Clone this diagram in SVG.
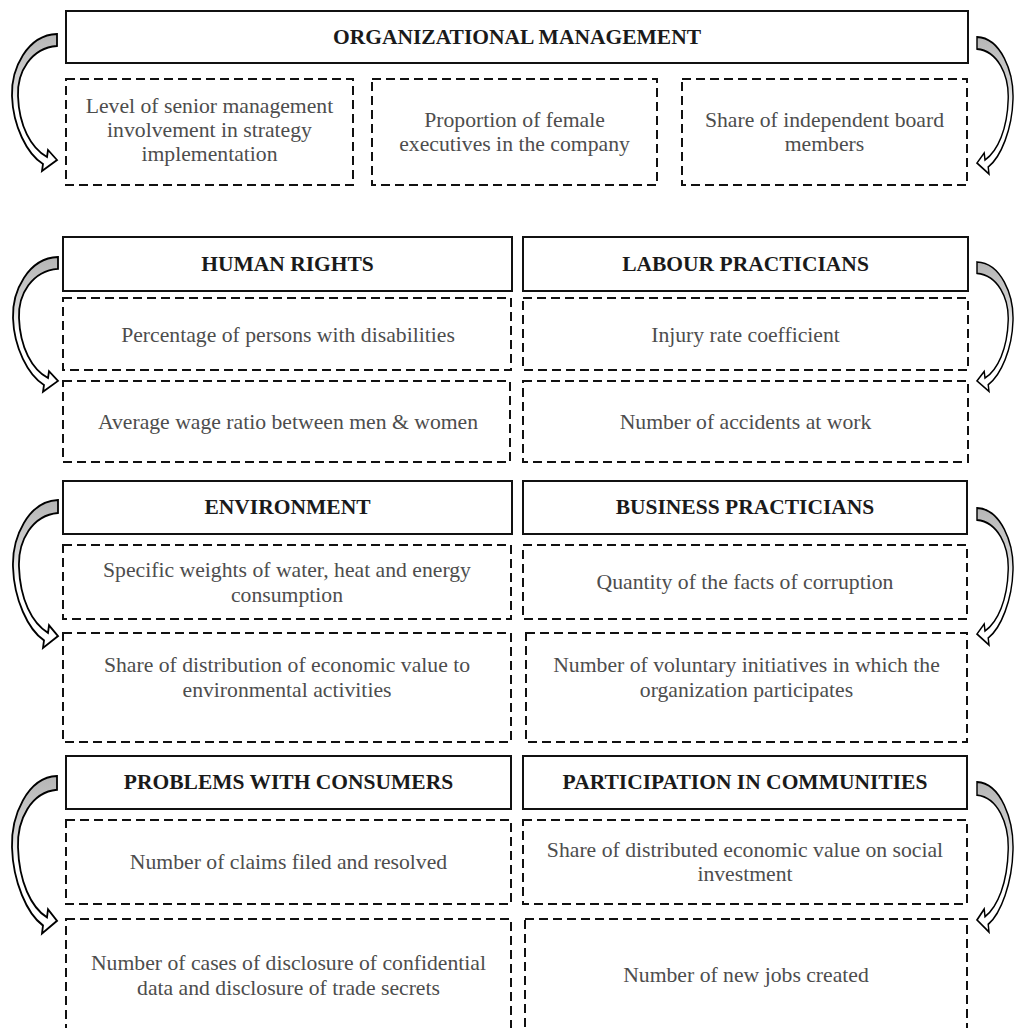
<svg xmlns="http://www.w3.org/2000/svg" width="1014" height="1028" viewBox="0 0 1014 1028">
<style>
.hdr{fill:#fff;stroke:#111;stroke-width:2}
.box{fill:#fff;stroke:#111;stroke-width:2;stroke-dasharray:9 5}
.ht{font-family:"Liberation Serif","Times New Roman",serif;font-weight:bold;font-size:21.5px;fill:#1a1a1a;text-anchor:middle}
.bt{font-family:"Liberation Serif","Times New Roman",serif;font-size:21.7px;fill:#4d4d4d;text-anchor:middle}
.arr{fill:url(#g);stroke:#000;stroke-width:1.8;stroke-linejoin:miter}
</style>
<defs>
<linearGradient id="g" x1="0" y1="0" x2="0" y2="1">
<stop offset="0" stop-color="#b5b5b5"/>
<stop offset="0.35" stop-color="#d2d2d2"/>
<stop offset="0.55" stop-color="#ffffff"/>
<stop offset="1" stop-color="#ffffff"/>
</linearGradient>
<path id="ca" d="M0,0 C-30,1 -46,35 -45,62 C-44,92 -30,120 -14,130 L-15,137 L0,126 L-9,116 L-10,123 C-26,114 -38,92 -39,62 C-40,38 -26,14 0,12 Z"/>
</defs>
<rect width="1014" height="1028" fill="#fff"/>

<g id="connectors">
<use href="#ca" class="arr" transform="translate(57,34) scale(1,1)"/>
<use href="#ca" class="arr" transform="translate(977,37) scale(-0.8,1)"/>
<use href="#ca" class="arr" transform="translate(58,257) scale(1,0.984)"/>
<use href="#ca" class="arr" transform="translate(977,262) scale(-0.8,0.944)"/>
<use href="#ca" class="arr" transform="translate(58,500) scale(1,1.08)"/>
<use href="#ca" class="arr" transform="translate(977,508) scale(-0.8,1.0)"/>
<use href="#ca" class="arr" transform="translate(57,776) scale(1,1.15)"/>
<use href="#ca" class="arr" transform="translate(977,782) scale(-0.8,1.095)"/>
</g>

<g id="org-header"><rect class="hdr" x="66" y="11" width="902" height="52"/><text class="ht" x="517" y="44">ORGANIZATIONAL MANAGEMENT</text></g>
<g id="org-1"><rect class="box" x="66" y="79" width="287" height="106"/><text class="bt" x="209.5" y="113">Level of senior management</text><text class="bt" x="209.5" y="137">involvement in strategy</text><text class="bt" x="209.5" y="161">implementation</text></g>
<g id="org-2"><rect class="box" x="372" y="79" width="285" height="106"/><text class="bt" x="514.5" y="127">Proportion of female</text><text class="bt" x="514.5" y="151">executives in the company</text></g>
<g id="org-3"><rect class="box" x="682" y="79" width="285" height="106"/><text class="bt" x="824.5" y="127">Share of independent board</text><text class="bt" x="824.5" y="151">members</text></g>

<g id="hr-header"><rect class="hdr" x="63" y="237" width="449" height="54"/><text class="ht" x="287.5" y="271">HUMAN RIGHTS</text></g>
<g id="hr-1"><rect class="box" x="63" y="298" width="448" height="72"/><text class="bt" x="288" y="342">Percentage of persons with disabilities</text></g>
<g id="hr-2"><rect class="box" x="63" y="381" width="447" height="81"/><text class="bt" x="288" y="429">Average wage ratio between men &amp; women</text></g>
<g id="lab-header"><rect class="hdr" x="523" y="237" width="445" height="54"/><text class="ht" x="745.5" y="271">LABOUR PRACTICIANS</text></g>
<g id="lab-1"><rect class="box" x="523" y="298" width="445" height="72"/><text class="bt" x="745.5" y="342">Injury rate coefficient</text></g>
<g id="lab-2"><rect class="box" x="523" y="381" width="445" height="81"/><text class="bt" x="745.5" y="429">Number of accidents at work</text></g>

<g id="env-header"><rect class="hdr" x="63" y="481" width="449" height="53"/><text class="ht" x="287.5" y="514">ENVIRONMENT</text></g>
<g id="env-1"><rect class="box" x="63" y="545" width="448" height="74"/><text class="bt" x="287" y="577">Specific weights of water, heat and energy</text><text class="bt" x="287" y="602">consumption</text></g>
<g id="env-2"><rect class="box" x="63" y="633" width="448" height="109"/><text class="bt" x="287" y="672">Share of distribution of economic value to</text><text class="bt" x="287" y="697">environmental activities</text></g>
<g id="bus-header"><rect class="hdr" x="523" y="481" width="444" height="53"/><text class="ht" x="745" y="514">BUSINESS PRACTICIANS</text></g>
<g id="bus-1"><rect class="box" x="523" y="545" width="444" height="74"/><text class="bt" x="745" y="589">Quantity of the facts of corruption</text></g>
<g id="bus-2"><rect class="box" x="526" y="633" width="441" height="109"/><text class="bt" x="746.5" y="672">Number of voluntary initiatives in which the</text><text class="bt" x="746.5" y="697">organization participates</text></g>

<g id="con-header"><rect class="hdr" x="66" y="756" width="445" height="53"/><text class="ht" x="288.5" y="789">PROBLEMS WITH CONSUMERS</text></g>
<g id="con-1"><rect class="box" x="66" y="820" width="445" height="84"/><text class="bt" x="288.5" y="869">Number of claims filed and resolved</text></g>
<g id="con-2"><rect class="box" x="66" y="919" width="445" height="130"/><text class="bt" x="288.5" y="970">Number of cases of disclosure of confidential</text><text class="bt" x="288.5" y="995">data and disclosure of trade secrets</text></g>
<g id="com-header"><rect class="hdr" x="523" y="756" width="444" height="53"/><text class="ht" x="745" y="789">PARTICIPATION IN COMMUNITIES</text></g>
<g id="com-1"><rect class="box" x="523" y="820" width="444" height="84"/><text class="bt" x="745" y="857">Share of distributed economic value on social</text><text class="bt" x="745" y="881">investment</text></g>
<g id="com-2"><rect class="box" x="525" y="919" width="442" height="130"/><text class="bt" x="746" y="982">Number of new jobs created</text></g>
</svg>
